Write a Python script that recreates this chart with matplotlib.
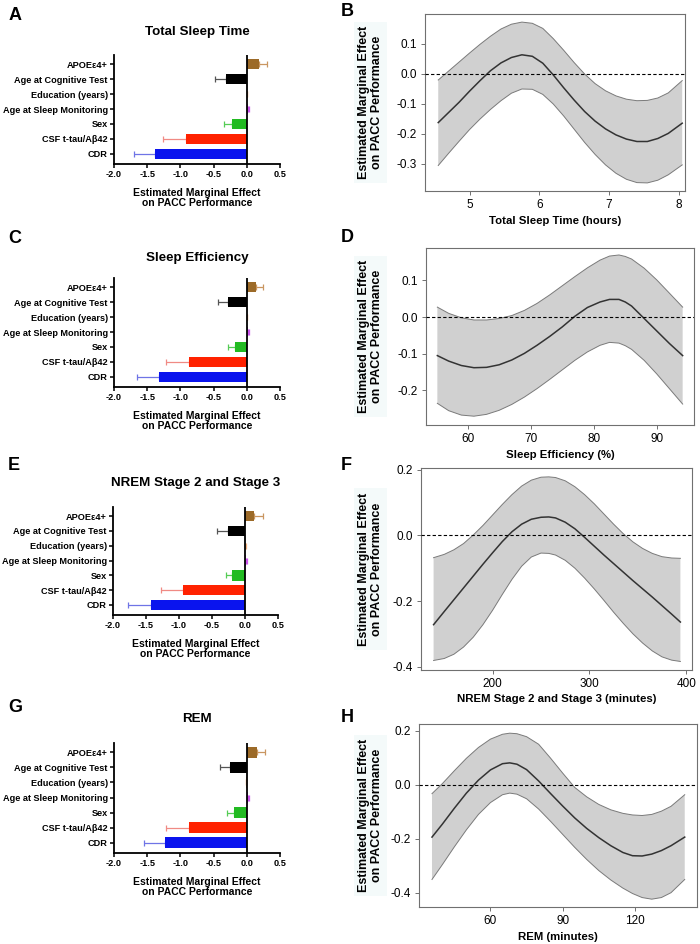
import numpy as np
import matplotlib.pyplot as plt

plt.rcParams['font.family'] = ['Liberation Sans', 'DejaVu Sans']
plt.rcParams['axes.unicode_minus'] = False

W, H = 700, 944

# ---- left panels: marginal effects of covariates ----
predictors = ['CDR', 'CSF t-tau/Aβ42', 'Sex', 'Age at Sleep Monitoring',
              'Education (years)', 'Age at Cognitive Test', 'APOEε4+']
bar_colors = ['#0a14ee', '#ff2200', '#22bb22', '#cc55ee', '#f0b080', '#000000', '#9c6a28']
err_colors = ['#6f74e6', '#f08a84', '#55cc55', '#cc55ee', '#f0b080', '#555555', '#c99660']

tst_est = [-1.38, -0.92, -0.23, 0.02, 0.006, -0.31, 0.19]
tst_err = [0.32, 0.34, 0.11, 0.012, 0.004, 0.17, 0.12]
se_est = [-1.32, -0.87, -0.18, 0.02, 0.006, -0.28, 0.14]
se_err = [0.33, 0.34, 0.11, 0.012, 0.004, 0.16, 0.11]
nrem_est = [-1.43, -0.94, -0.19, 0.02, 0.006, -0.26, 0.14]
nrem_err = [0.34, 0.33, 0.10, 0.012, 0.004, 0.16, 0.13]
rem_est = [-1.23, -0.87, -0.20, 0.02, -0.006, -0.25, 0.15]
rem_err = [0.32, 0.34, 0.10, 0.012, 0.004, 0.16, 0.12]

# ---- right panels: estimated marginal effect curves ----
tst_x = [4.55, 4.7, 4.85, 5.0, 5.15, 5.3, 5.45, 5.6, 5.75, 5.9, 6.05, 6.2,
         6.35, 6.5, 6.65, 6.8, 6.95, 7.1, 7.25, 7.4, 7.55, 7.7, 7.85, 8.05]
tst_mean = [-0.162, -0.128, -0.094, -0.057, -0.022, 0.011, 0.037, 0.055, 0.064, 0.059, 0.036, -0.003,
            -0.046, -0.087, -0.125, -0.157, -0.183, -0.203, -0.217, -0.225, -0.225, -0.215, -0.198, -0.164]
tst_hi = [-0.020, 0.010, 0.040, 0.070, 0.099, 0.126, 0.150, 0.166, 0.173, 0.169, 0.152, 0.118,
          0.079, 0.038, 0.000, -0.032, -0.056, -0.073, -0.084, -0.089, -0.088, -0.080, -0.063, -0.022]
tst_lo = [-0.305, -0.264, -0.224, -0.185, -0.150, -0.118, -0.089, -0.064, -0.050, -0.051, -0.068, -0.100,
          -0.140, -0.184, -0.228, -0.268, -0.303, -0.331, -0.351, -0.362, -0.363, -0.354, -0.336, -0.303]

se_x = [55.2, 57, 59, 61, 63, 65, 67, 69, 71, 73, 75, 77, 79, 81, 82.5, 84, 85, 86, 88, 90, 92, 94.1]
se_mean = [-0.105, -0.120, -0.132, -0.138, -0.137, -0.130, -0.117, -0.099, -0.077, -0.053, -0.027,
           0.002, 0.026, 0.041, 0.048, 0.048, 0.041, 0.030, -0.004, -0.038, -0.072, -0.105]
se_hi = [0.027, 0.010, -0.002, -0.008, -0.008, -0.004, 0.004, 0.018, 0.037, 0.060, 0.085,
         0.110, 0.134, 0.155, 0.166, 0.169, 0.165, 0.158, 0.133, 0.101, 0.065, 0.027]
se_lo = [-0.235, -0.255, -0.267, -0.270, -0.265, -0.254, -0.238, -0.218, -0.195, -0.170, -0.144,
         -0.118, -0.095, -0.077, -0.069, -0.071, -0.078, -0.088, -0.118, -0.155, -0.195, -0.237]

nrem_x = [139, 150, 160, 170, 180, 190, 200, 210, 220, 230, 240, 250, 258, 265,
          275, 285, 295, 305, 315, 325, 335, 345, 355, 365, 375, 385, 394]
nrem_mean = [-0.272, -0.232, -0.196, -0.160, -0.124, -0.088, -0.053, -0.019, 0.011, 0.034, 0.049, 0.055,
             0.056, 0.053, 0.040, 0.020, -0.006, -0.033, -0.060, -0.086, -0.112, -0.138, -0.163,
             -0.188, -0.214, -0.240, -0.264]
nrem_hi = [-0.068, -0.058, -0.044, -0.025, 0.001, 0.030, 0.062, 0.094, 0.124, 0.150, 0.168, 0.177,
           0.178, 0.176, 0.166, 0.148, 0.124, 0.096, 0.065, 0.034, 0.005, -0.020, -0.040,
           -0.055, -0.065, -0.069, -0.070]
nrem_lo = [-0.381, -0.375, -0.362, -0.340, -0.310, -0.272, -0.228, -0.180, -0.134, -0.094, -0.066, -0.054,
           -0.055, -0.060, -0.076, -0.100, -0.130, -0.163, -0.198, -0.234, -0.268, -0.300, -0.328,
           -0.352, -0.370, -0.380, -0.384]

rem_x = [35.7, 40, 45, 50, 55, 60, 65, 68, 71, 75, 80, 85, 90, 95, 100, 105,
         110, 115, 119, 123, 127, 131, 135, 140.7]
rem_mean = [-0.194, -0.146, -0.087, -0.031, 0.017, 0.055, 0.078, 0.081, 0.076, 0.056, 0.014, -0.033,
            -0.079, -0.123, -0.162, -0.196, -0.226, -0.251, -0.263, -0.264, -0.257, -0.244, -0.226, -0.194]
rem_hi = [-0.033, 0.004, 0.052, 0.098, 0.138, 0.169, 0.187, 0.191, 0.189, 0.178, 0.150, 0.098,
          0.043, -0.010, -0.045, -0.073, -0.093, -0.106, -0.112, -0.114, -0.110, -0.098, -0.080, -0.037]
rem_lo = [-0.351, -0.296, -0.230, -0.167, -0.110, -0.066, -0.037, -0.031, -0.035, -0.052, -0.090, -0.136,
          -0.184, -0.232, -0.277, -0.318, -0.353, -0.383, -0.403, -0.418, -0.424, -0.418, -0.400, -0.351]


def px_axes(fig, left, right, top, bottom):
    return fig.add_axes([left / W, 1 - bottom / H, (right - left) / W, (bottom - top) / H])


def bar_panel(fig, box, title, title_y, est, err):
    ax = px_axes(fig, *box)
    y = np.arange(len(predictors))
    ax.barh(y, est, height=0.7, color=bar_colors, zorder=2)
    for i in range(len(est)):
        lo, hi = (err[i], 0) if est[i] < 0 else (0, err[i])
        ax.errorbar(est[i], y[i], xerr=[[lo], [hi]], fmt='none', ecolor=err_colors[i],
                    elinewidth=0.9, capsize=2.2, capthick=0.9, zorder=1)
    ax.axvline(0, color='black', lw=1.3, zorder=3)
    ax.set_xlim(-2.0, 0.5)
    ax.set_ylim(-0.68, 6.62)
    ax.set_xticks([-2.0, -1.5, -1.0, -0.5, 0.0, 0.5])
    ax.set_xticklabels(['-2.0', '-1.5', '-1.0', '-0.5', '0.0', '0.5'])
    ax.set_yticks(y)
    ax.set_yticklabels(predictors)
    for s in ['top', 'right']:
        ax.spines[s].set_visible(False)
    for s in ['left', 'bottom']:
        ax.spines[s].set_linewidth(1.3)
    ax.tick_params(length=3, width=1.1, labelsize=6.6, pad=1.5)
    for lab in ax.get_xticklabels() + ax.get_yticklabels():
        lab.set_fontweight('bold')
    ax.set_xlabel('Estimated Marginal Effect\non PACC Performance', fontsize=7.5,
                  fontweight='bold', labelpad=6, linespacing=1.1)
    cx = (box[0] + box[1]) / 2 / W
    fig.text(cx, 1 - title_y / H, title, ha='center', va='center', fontsize=9.6, fontweight='bold')
    return ax


def curve_panel(fig, box, xs, mean, lo, hi, xlim, ylim, xticks, yticks, xlabel):
    ax = px_axes(fig, *box)
    ax.fill_between(xs, lo, hi, facecolor='#d0d0d0', edgecolor='none', zorder=1)
    ax.plot(xs, hi, color='#7a7a7a', lw=0.7, zorder=2)
    ax.plot(xs, lo, color='#7a7a7a', lw=0.7, zorder=2)
    ax.plot(xs, mean, color='#333333', lw=1.1, zorder=3)
    ax.axhline(0, color='black', lw=0.8, ls=(0, (3, 2)), zorder=4)
    ax.set_xlim(*xlim)
    ax.set_ylim(*ylim)
    ax.set_xticks(xticks)
    ax.set_yticks(yticks)
    ax.set_yticklabels(['%.1f' % v for v in yticks])
    for s in ax.spines.values():
        s.set_color('#707070')
        s.set_linewidth(0.8)
    ax.tick_params(length=3, width=0.7, color='#707070', labelsize=8.5, pad=3)
    ax.set_xlabel(xlabel, fontsize=8.2, fontweight='bold', labelpad=3)
    ax.set_ylabel('Estimated Marginal Effect\non PACC Performance', fontsize=9,
                  fontweight='bold', linespacing=1.1,
                  bbox=dict(facecolor='#f4fafa', edgecolor='none', pad=3))
    ax.yaxis.set_label_coords((383 - box[0]) / (box[1] - box[0]), 0.5)
    return ax


fig = plt.figure(figsize=(7.0, 9.44), dpi=100)

bar_panel(fig, (114, 280, 55, 164), 'Total Sleep Time', 32, tst_est, tst_err)
bar_panel(fig, (114, 280, 278, 387), 'Sleep Efficiency', 258, se_est, se_err)
bar_panel(fig, (113, 278, 507, 615), 'NREM Stage 2 and Stage 3', 483, nrem_est, nrem_err)
bar_panel(fig, (114, 280, 743, 853), 'REM', 719, rem_est, rem_err)

curve_panel(fig, (425, 685, 14, 191), tst_x, tst_mean, tst_lo, tst_hi, (4.36, 8.09), (-0.39, 0.2),
            [5, 6, 7, 8], [-0.3, -0.2, -0.1, 0.0, 0.1], 'Total Sleep Time (hours)')
curve_panel(fig, (426, 694, 248, 425), se_x, se_mean, se_lo, se_hi, (53.4, 95.9), (-0.294, 0.188),
            [60, 70, 80, 90], [-0.2, -0.1, 0.0, 0.1], 'Sleep Efficiency (%)')
curve_panel(fig, (421, 692, 468, 670), nrem_x, nrem_mean, nrem_lo, nrem_hi, (126, 406), (-0.41, 0.205),
            [200, 300, 400], [-0.4, -0.2, 0.0, 0.2], 'NREM Stage 2 and Stage 3 (minutes)')
curve_panel(fig, (419, 697, 724, 907), rem_x, rem_mean, rem_lo, rem_hi, (30.3, 145.8), (-0.453, 0.225),
            [60, 90, 120], [-0.4, -0.2, 0.0, 0.2], 'REM (minutes)')

letters = [('A', 9, 15), ('B', 341, 12), ('C', 8, 239), ('D', 341, 237),
           ('E', 8, 466), ('F', 341, 465), ('G', 8, 708), ('H', 341, 718)]
for txt, x, y in letters:
    fig.text(x / W, 1 - y / H, txt, ha='left', va='center', fontsize=13, fontweight='bold')

fig.savefig('out.png', dpi=100)
